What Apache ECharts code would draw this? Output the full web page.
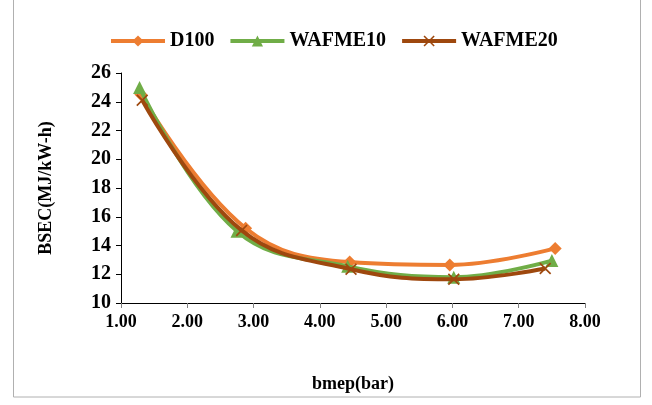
<!DOCTYPE html>
<html>
<head>
<meta charset="utf-8">
<script src="https://cdn.jsdelivr.net/npm/echarts@6/dist/echarts.min.js"></script>
<style>
  html, body { margin: 0; padding: 0; background: #fff; }
  #chart { width: 652px; height: 405px; }
</style>
</head>
<body>
<div id="chart"></div>
<script>
  const seriesNames = ['D100', 'WAFME10', 'WAFME20'];
  const d100X = [1.30, 2.88, 4.45, 5.96, 7.55];
  const d100Y = [24.5, 15.2, 12.85, 12.65, 13.8];
  const wafme10X = [1.28, 2.75, 4.42, 6.02, 7.50];
  const wafme10Y = [25.0, 15.0, 12.55, 11.8, 12.95];
  const wafme20X = [1.32, 2.82, 4.47, 6.02, 7.40];
  const wafme20Y = [24.1, 15.05, 12.35, 11.65, 12.4];

  const font = 'Liberation Serif';
  const crossPath = 'path://M0,1L1,0L5,4L9,0L10,1L6,5L10,9L9,10L5,6L1,10L0,9L4,5Z';

  const pairs = (xs, ys) => xs.map((x, i) => [x, ys[i]]);

  const myChart = echarts.init(document.getElementById('chart'));
  const option = {
    animation: false,
    graphic: [{
      type: 'rect',
      shape: { x: 13.5, y: -2, width: 627, height: 399 },
      style: { fill: 'none', stroke: '#b0b0b0', lineWidth: 1 },
      silent: true,
    }],
    legend: {
      data: seriesNames,
      top: 26,
      left: 104,
      itemWidth: 54,
      itemHeight: 14,
      itemGap: 14,
      lineStyle: { width: 4 },
      textStyle: { fontFamily: font, fontWeight: 'bold', fontSize: 20, color: '#000' },
    },
    grid: {
      left: 121,
      right: 67,
      top: 73,
      bottom: 102,
    },
    xAxis: {
      type: 'value',
      min: 1,
      max: 8,
      interval: 1,
      name: 'bmep(bar)',
      nameLocation: 'middle',
      nameGap: 72,
      nameTextStyle: { fontFamily: font, fontWeight: 'bold', fontSize: 18, color: '#000' },
      axisLine: { lineStyle: { color: '#000', width: 1 } },
      axisTick: { show: true, length: 5, lineStyle: { color: '#808080' } },
      axisLabel: {
        fontFamily: font, fontWeight: 'bold', fontSize: 18, color: '#000', margin: 10,
        formatter: (v) => v.toFixed(2),
      },
      splitLine: { show: false },
    },
    yAxis: {
      type: 'value',
      min: 10,
      max: 26,
      interval: 2,
      name: 'BSEC(MJ/kW-h)',
      nameLocation: 'middle',
      nameGap: 66,
      nameTextStyle: { fontFamily: font, fontWeight: 'bold', fontSize: 18, color: '#000' },
      axisLine: { show: true, lineStyle: { color: '#000', width: 1 } },
      axisTick: { show: true, length: 5, lineStyle: { color: '#000' } },
      axisLabel: { fontFamily: font, fontWeight: 'bold', fontSize: 20, color: '#000', margin: 10 },
      splitLine: { show: false },
    },
    series: [
      {
        name: 'D100',
        type: 'line',
        smooth: 0.4,
        data: pairs(d100X, d100Y),
        symbol: 'diamond',
        symbolSize: 13,
        lineStyle: { color: '#ED7D31', width: 4 },
        itemStyle: { color: '#ED7D31' },
        z: 2,
      },
      {
        name: 'WAFME10',
        type: 'line',
        smooth: 0.4,
        data: pairs(wafme10X, wafme10Y),
        symbol: 'triangle',
        symbolSize: 13,
        lineStyle: { color: '#70AD47', width: 4 },
        itemStyle: { color: '#70AD47' },
        z: 3,
      },
      {
        name: 'WAFME20',
        type: 'line',
        smooth: 0.4,
        data: pairs(wafme20X, wafme20Y),
        symbol: crossPath,
        symbolSize: 12,
        lineStyle: { color: '#9E480E', width: 4 },
        itemStyle: { color: '#9E480E' },
        z: 4,
      },
    ],
  };
  myChart.setOption(option);
</script>
</body>
</html>
